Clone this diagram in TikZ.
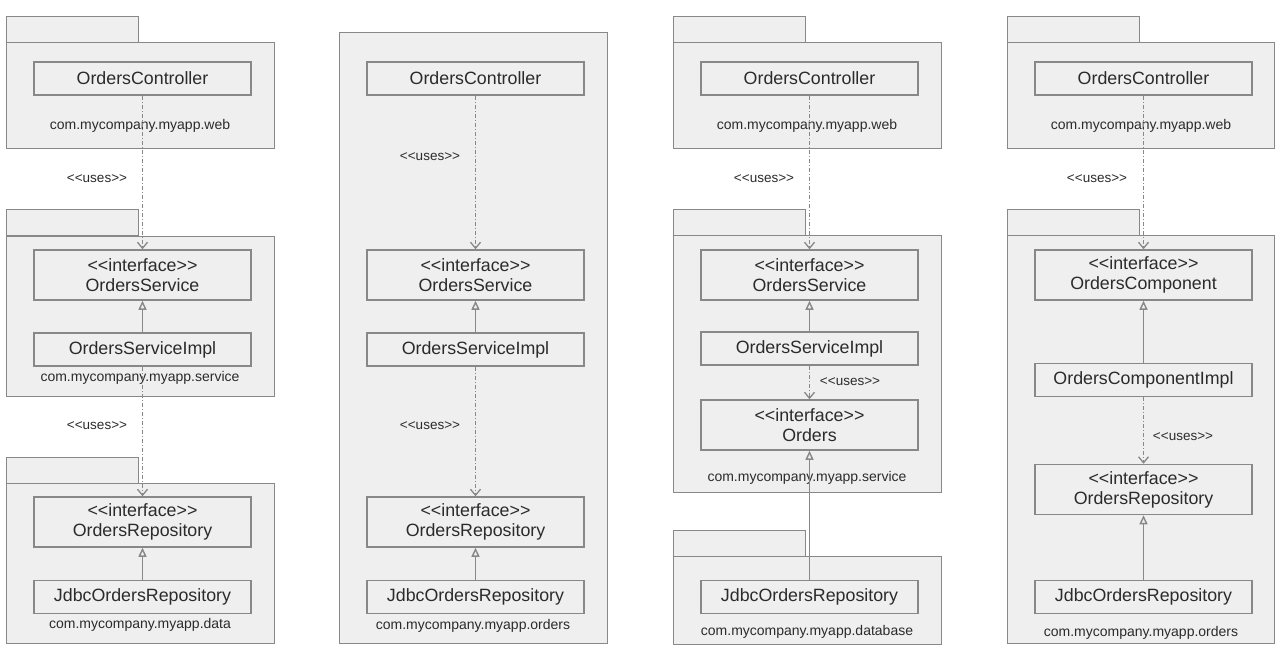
\documentclass[tikz,border=0pt]{standalone}
\usepackage{fontspec}
\setmainfont{Liberation Sans}
\usetikzlibrary{arrows.meta}
\definecolor{pkgfill}{HTML}{EFEFEF}
\definecolor{linegray}{HTML}{888888}
\definecolor{txtgray}{HTML}{2B2B2B}
\newcommand\ltlt{\textless{}\textless{}}
\newcommand\gtgt{\textgreater{}\textgreater{}}
\newcommand\usestxt{\ltlt uses\gtgt}
\newcommand\iftxt{\ltlt interface\gtgt}
\begin{document}
\begin{tikzpicture}[x=1pt,y=-1pt,
  pkg/.style={draw=linegray, fill=pkgfill, line width=1.4pt, rectangle, inner sep=0pt, anchor=north west},
  tab/.style={pkg, minimum width=132pt, minimum height=26pt},
  cls/.style={draw=linegray, fill=pkgfill, line width=1.5pt, rectangle, inner sep=0pt, minimum width=217pt, text=txtgray, font=\fontsize{17.8}{20}\selectfont, align=center},
  one/.style={cls, minimum height=33pt},
  two/.style={cls, minimum height=50pt},
  pkglabel/.style={text=txtgray, font=\fontsize{14}{16}\selectfont, inner sep=0pt},
  useslabel/.style={text=txtgray, font=\fontsize{13.5}{15}\selectfont, inner sep=0pt},
  uses/.style={draw=linegray, line width=1.3pt, dash pattern=on 4pt off 2pt on 1pt off 2pt, -{Straight Barb[length=6pt,width=10pt]}},
  realizes/.style={draw=linegray, line width=1.4pt, -{Triangle[open, length=9pt, width=8pt, fill=pkgfill]}},
]
\fill[white] (0,0) rectangle (1280,656);
\useasboundingbox (0,0) rectangle (1280,656);

% ---------------- Column 1 ----------------
\node[tab] (a1t) at (6,16) {};
\node[pkg, minimum width=268pt, minimum height=106pt] (a1b) at (6,42) {};
\node[tab] (a2t) at (6,209) {};
\node[pkg, minimum width=268pt, minimum height=160pt] (a2b) at (6,236) {};
\node[tab] (a3t) at (6,457) {};
\node[pkg, minimum width=268pt, minimum height=160pt] (a3b) at (6,483) {};
\node[pkglabel] (a1l) at (140,126) {com.mycompany.myapp.web};
\node[pkglabel] (a2l) at (140,378) {com.mycompany.myapp.service};
\node[pkglabel] (a3l) at (140,625) {com.mycompany.myapp.data};
\node[one] (a-ctrl) at (142.5,78.5) {OrdersController};
\node[two] (a-svc) at (142.5,275) {\iftxt\\OrdersService};
\node[one] (a-impl) at (142.5,349.5) {OrdersServiceImpl};
\node[two] (a-repo) at (142.5,522) {\iftxt\\OrdersRepository};
\node[one] (a-jdbc) at (142.5,597) {JdbcOrdersRepository};
\node[useslabel] (a-u1) at (97,179) {\usestxt};
\node[useslabel] (a-u2) at (97,426) {\usestxt};
\draw[uses] (a-ctrl) -- (a-svc);
\draw[realizes] (a-impl) -- (a-svc);
\draw[uses] (a-impl) -- (a-repo);
\draw[realizes] (a-jdbc) -- (a-repo);

% ---------------- Column 2 ----------------
\node[pkg, minimum width=268pt, minimum height=611pt] (b1b) at (339,32) {};
\node[pkglabel] (b1l) at (473,626) {com.mycompany.myapp.orders};
\node[one] (b-ctrl) at (475.5,78.5) {OrdersController};
\node[two] (b-svc) at (475.5,275) {\iftxt\\OrdersService};
\node[one] (b-impl) at (475.5,349.5) {OrdersServiceImpl};
\node[two] (b-repo) at (475.5,522) {\iftxt\\OrdersRepository};
\node[one] (b-jdbc) at (475.5,597) {JdbcOrdersRepository};
\node[useslabel] (b-u1) at (430,157) {\usestxt};
\node[useslabel] (b-u2) at (430,426) {\usestxt};
\draw[uses] (b-ctrl) -- (b-svc);
\draw[realizes] (b-impl) -- (b-svc);
\draw[uses] (b-impl) -- (b-repo);
\draw[realizes] (b-jdbc) -- (b-repo);

% ---------------- Column 3 ----------------
\node[tab] (c1t) at (673,16) {};
\node[pkg, minimum width=268pt, minimum height=106pt] (c1b) at (673,42) {};
\node[tab] (c2t) at (673,209) {};
\node[pkg, minimum width=268pt, minimum height=257pt] (c2b) at (673,235) {};
\node[tab] (c3t) at (673,530) {};
\node[pkg, minimum width=268pt, minimum height=88pt] (c3b) at (673,556) {};
\node[pkglabel] (c1l) at (807,126) {com.mycompany.myapp.web};
\node[pkglabel] (c2l) at (807,478) {com.mycompany.myapp.service};
\node[pkglabel] (c3l) at (807,632) {com.mycompany.myapp.database};
\node[one] (c-ctrl) at (809.5,78.5) {OrdersController};
\node[two] (c-svc) at (809.5,275) {\iftxt\\OrdersService};
\node[one] (c-impl) at (809.5,348.5) {OrdersServiceImpl};
\node[two] (c-ord) at (809.5,425) {\iftxt\\Orders};
\node[one] (c-jdbc) at (809.5,597) {JdbcOrdersRepository};
\node[useslabel] (c-u1) at (764,179) {\usestxt};
\node[useslabel] (c-u2) at (850,382) {\usestxt};
\draw[uses] (c-ctrl) -- (c-svc);
\draw[realizes] (c-impl) -- (c-svc);
\draw[uses] (c-impl) -- (c-ord);
\draw[realizes] (c-jdbc) -- (c-ord);

% ---------------- Column 4 ----------------
\node[tab] (d1t) at (1007,16) {};
\node[pkg, minimum width=267pt, minimum height=106pt] (d1b) at (1007,42) {};
\node[tab] (d2t) at (1007,209) {};
\node[pkg, minimum width=267pt, minimum height=408pt] (d2b) at (1007,235) {};
\node[pkglabel] (d1l) at (1141,126) {com.mycompany.myapp.web};
\node[pkglabel] (d2l) at (1141,633) {com.mycompany.myapp.orders};
\node[one] (d-ctrl) at (1143.5,78.5) {OrdersController};
\node[two] (d-cmp) at (1143.5,275) {\iftxt\\OrdersComponent};
\node[one] (d-impl) at (1143.5,380) {OrdersComponentImpl};
\node[two] (d-repo) at (1143.5,489.5) {\iftxt\\OrdersRepository};
\node[one] (d-jdbc) at (1143.5,597) {JdbcOrdersRepository};
\node[useslabel] (d-u1) at (1097,179) {\usestxt};
\node[useslabel] (d-u2) at (1183,437) {\usestxt};
\draw[uses] (d-ctrl) -- (d-cmp);
\draw[realizes] (d-impl) -- (d-cmp);
\draw[uses] (d-impl) -- (d-repo);
\draw[realizes] (d-jdbc) -- (d-repo);
\end{tikzpicture}
\end{document}
